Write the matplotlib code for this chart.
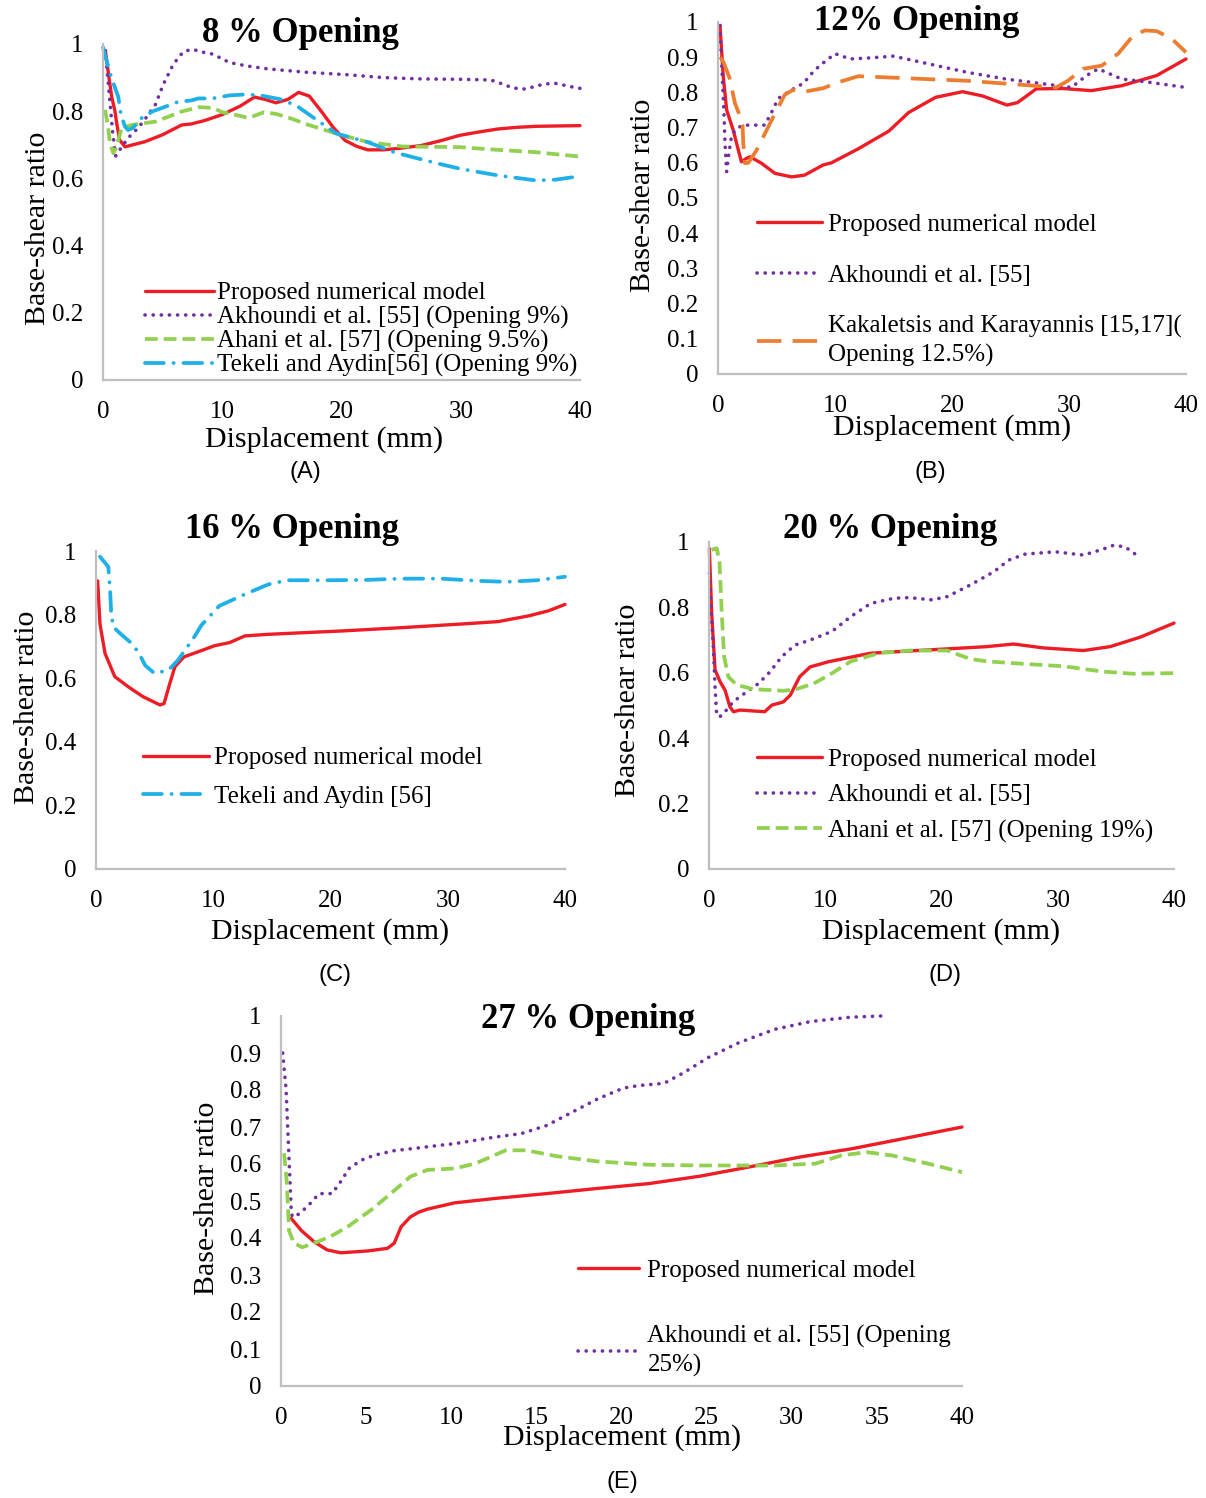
import matplotlib
matplotlib.use("Agg")
import matplotlib.pyplot as plt
from matplotlib.ticker import FuncFormatter

plt.rcParams['font.family'] = ['Liberation Serif', 'DejaVu Serif']

W, H = 1206, 1498

# ---- data ------------------------------------------------------------------
# (A) 8 % opening
a_red_x = [0.2, 0.5, 0.73, 1.0, 1.15, 1.4, 1.85, 2.5, 3.5, 5.0, 6.6, 7.4, 8.5, 10.0, 11.5, 12.7, 13.6,
           14.5, 15.5, 16.4, 17.3, 18.3, 19.3, 20.3, 21.3, 22.2, 23.5, 25.0, 26.7, 28.3, 29.9, 31.5,
           33.1, 34.7, 36.3, 38.0, 40.0]
a_red_y = [0.98, 0.9, 0.843, 0.8, 0.764, 0.714, 0.694, 0.70, 0.709, 0.73, 0.759, 0.762, 0.772, 0.79,
           0.815, 0.842, 0.835, 0.825, 0.835, 0.856, 0.845, 0.80, 0.752, 0.713, 0.695, 0.685, 0.685,
           0.69, 0.698, 0.712, 0.728, 0.738, 0.747, 0.752, 0.755, 0.756, 0.757]
a_akh_x = [0.2, 0.5, 0.8, 1.06, 1.5, 2.1, 2.8, 3.4, 4.4, 5.06, 5.9, 6.73, 7.43, 8.0, 8.55, 9.2, 10.6,
           12.0, 13.8, 17.0, 20.3, 23.5, 26.7, 29.9, 32.5, 33.1, 34.4, 35.4, 37.0, 37.9, 39.5, 40.0]
a_akh_y = [0.98, 0.86, 0.74, 0.667, 0.69, 0.72, 0.745, 0.77, 0.82, 0.88, 0.94, 0.977, 0.984, 0.98, 0.974,
           0.97, 0.945, 0.935, 0.926, 0.916, 0.909, 0.90, 0.896, 0.895, 0.893, 0.886, 0.869, 0.866,
           0.881, 0.883, 0.871, 0.868]
a_aha_x = [0.17, 0.4, 0.59, 0.87, 1.08, 1.28, 1.56, 2.4, 4.4, 6.6, 8.0, 9.2, 10.0, 11.0, 12.2, 13.5,
           14.5, 15.8, 17.0, 19.6, 22.2, 25.1, 29.9, 33.1, 36.3, 40.0]
a_aha_y = [0.804, 0.76, 0.704, 0.675, 0.69, 0.714, 0.749, 0.759, 0.769, 0.799, 0.812, 0.81, 0.797, 0.79,
           0.78, 0.797, 0.792, 0.778, 0.762, 0.733, 0.708, 0.695, 0.693, 0.685, 0.678, 0.665]
a_tek_x = [0.0, 0.59, 1.0, 1.28, 1.5, 1.85, 2.1, 2.5, 3.25, 4.2, 5.2, 6.3, 7.4, 8.0, 9.2, 10.6, 12.0,
           13.2, 15.1, 16.4, 18.0, 19.6, 22.2, 24.4, 26.0, 28.0, 29.9, 33.1, 36.3, 37.9, 39.5, 40.0]
a_tek_y = [0.99, 0.913, 0.87, 0.843, 0.79, 0.754, 0.744, 0.75, 0.78, 0.80, 0.813, 0.828, 0.832, 0.838,
           0.838, 0.847, 0.85, 0.847, 0.834, 0.812, 0.772, 0.733, 0.708, 0.678, 0.663, 0.645, 0.629,
           0.609, 0.594, 0.596, 0.604, 0.605]

# (B) 12 % opening
b_red_x = [0.17, 0.45, 0.74, 1.3, 1.74, 2.0, 2.45, 2.74, 3.7, 4.87, 6.3, 7.4, 9.0, 9.7, 12.0, 14.6,
           16.3, 18.6, 20.9, 22.6, 24.7, 25.6, 27.2, 29.5, 31.9, 34.5, 37.5, 40.0]
b_red_y = [0.99, 0.845, 0.75, 0.693, 0.636, 0.603, 0.613, 0.617, 0.599, 0.57, 0.56, 0.565, 0.594, 0.60,
           0.64, 0.69, 0.743, 0.786, 0.802, 0.79, 0.764, 0.771, 0.81, 0.811, 0.805, 0.819, 0.848, 0.895]
b_akh_x = [0.17, 0.3, 0.5, 0.6, 0.74, 0.9, 1.17, 1.6, 2.16, 3.3, 4.0, 4.6, 5.15, 6.3, 7.3, 8.15, 8.7,
           10.0, 11.3, 13.0, 15.0, 18.0, 21.3, 24.6, 27.9, 30.2, 31.5, 32.5, 34.5, 36.8, 40.0]
b_akh_y = [0.99, 0.892, 0.75, 0.655, 0.575, 0.62, 0.679, 0.698, 0.707, 0.707, 0.707, 0.745, 0.783, 0.807,
           0.826, 0.859, 0.876, 0.91, 0.895, 0.898, 0.903, 0.881, 0.857, 0.838, 0.824, 0.814, 0.848,
           0.867, 0.838, 0.829, 0.814]
b_kak_x = [0.2, 0.45, 1.0, 1.45, 1.9, 2.1, 2.16, 2.3, 2.6, 3.3, 4.16, 4.87, 5.7, 6.4, 7.4, 9.0, 10.3,
           12.0, 16.3, 21.3, 26.2, 28.9, 29.9, 31.2, 32.8, 34.2, 35.5, 36.5, 37.5, 38.8, 40.0]
b_kak_y = [0.90, 0.887, 0.84, 0.769, 0.731, 0.707, 0.655, 0.599, 0.60, 0.636, 0.693, 0.74, 0.793,
           0.807, 0.802, 0.812, 0.829, 0.846, 0.84, 0.833, 0.821, 0.814, 0.833, 0.867, 0.876, 0.91,
           0.962, 0.976, 0.974, 0.952, 0.914]

# (C) 16 % opening
c_red_x = [0.14, 0.34, 0.77, 1.6, 2.75, 4.0, 5.45, 5.8, 6.3, 6.73, 7.5, 9.15, 10.1, 11.4, 12.7, 14.7,
           21.2, 26.1, 31.0, 34.3, 36.9, 38.6, 40.0]
c_red_y = [0.906, 0.77, 0.678, 0.605, 0.573, 0.542, 0.516, 0.52, 0.584, 0.636, 0.667, 0.689, 0.702,
           0.712, 0.733, 0.738, 0.749, 0.759, 0.77, 0.778, 0.796, 0.812, 0.832]
c_tek_x = [0.34, 1.05, 1.2, 1.3, 1.5, 2.2, 2.9, 3.6, 4.2, 5.0, 6.2, 7.0, 7.6, 8.3, 9.0, 10.5, 12.7,
           14.7, 16.3, 19.6, 22.9, 26.1, 29.4, 32.7, 35.0, 37.6, 40.0]
c_tek_y = [0.982, 0.95, 0.88, 0.80, 0.76, 0.736, 0.714, 0.683, 0.64, 0.615, 0.626, 0.657, 0.689, 0.725,
           0.767, 0.827, 0.864, 0.895, 0.908, 0.908, 0.909, 0.913, 0.913, 0.906, 0.903, 0.908, 0.919]

# (D) 20 % opening
d_red_x = [0.03, 0.23, 0.52, 0.95, 1.38, 1.8, 2.1, 2.67, 4.8, 5.4, 6.4, 7.0, 7.8, 8.7, 10.3, 13.9,
           18.9, 23.9, 26.2, 28.8, 32.2, 34.5, 37.1, 40.0]
d_red_y = [0.98, 0.782, 0.609, 0.573, 0.547, 0.496, 0.481, 0.486, 0.481, 0.501, 0.511, 0.532, 0.588,
           0.618, 0.634, 0.66, 0.67, 0.68, 0.688, 0.676, 0.668, 0.68, 0.709, 0.752]
d_akh_x = [0.03, 0.2, 0.37, 0.52, 0.66, 0.95, 1.38, 2.1, 3.25, 4.25, 5.25, 6.25, 7.4, 8.7, 10.6, 12.2,
           13.9, 15.9, 17.2, 19.2, 20.5, 22.5, 24.5, 25.8, 27.2, 29.8, 32.2, 33.8, 34.8, 35.8, 37.1]
d_akh_y = [0.904, 0.78, 0.68, 0.557, 0.47, 0.466, 0.481, 0.512, 0.542, 0.567, 0.603, 0.649, 0.685, 0.70,
           0.727, 0.772, 0.812, 0.828, 0.83, 0.823, 0.833, 0.869, 0.909, 0.945, 0.963, 0.97, 0.96,
           0.977, 0.99, 0.985, 0.952]
d_aha_x = [0.23, 0.66, 0.9, 1.1, 1.3, 1.66, 2.38, 3.8, 6.4, 7.5, 9.0, 10.6, 12.2, 14.6, 17.2, 20.5,
           22.5, 23.9, 27.2, 30.5, 33.8, 36.5, 40.0]
d_aha_y = [0.976, 0.981, 0.94, 0.782, 0.649, 0.588, 0.563, 0.55, 0.545, 0.55, 0.567, 0.599, 0.635, 0.66,
           0.668, 0.668, 0.642, 0.635, 0.627, 0.62, 0.604, 0.597, 0.599]

# (E) 27 % opening
e_red_x = [0.6, 1.2, 1.94, 2.7, 3.5, 5.1, 6.25, 6.65, 7.05, 7.6, 8.1, 8.6, 10.2, 12.6, 15.6, 18.6,
           21.6, 24.6, 27.5, 30.5, 33.5, 36.5, 40.0]
e_red_y = [0.453, 0.42, 0.39, 0.368, 0.36, 0.365, 0.372, 0.386, 0.43, 0.457, 0.47, 0.478, 0.495, 0.507,
           0.52, 0.534, 0.547, 0.567, 0.592, 0.619, 0.641, 0.668, 0.70]
e_akh_x = [0.1, 0.3, 0.4, 0.5, 0.6, 0.66, 0.96, 1.55, 2.24, 3.0, 3.5, 4.0, 4.7, 5.5, 6.65, 7.8, 9.4,
           10.2, 12.6, 14.1, 15.6, 17.1, 18.6, 20.1, 21.0, 22.5, 23.7, 25.1, 26.9, 29.0, 31.1, 33.5, 35.3]
e_akh_y = [0.90, 0.80, 0.69, 0.585, 0.476, 0.457, 0.462, 0.485, 0.52, 0.52, 0.552, 0.588, 0.61, 0.624,
           0.636, 0.642, 0.651, 0.655, 0.673, 0.682, 0.704, 0.74, 0.776, 0.805, 0.812, 0.818, 0.848,
           0.888, 0.928, 0.964, 0.985, 0.997, 1.0]
e_aha_x = [0.18, 0.33, 0.4, 0.47, 0.76, 1.25, 1.94, 2.9, 3.9, 5.3, 6.45, 7.6, 8.6, 10.2, 11.4, 13.2,
           14.4, 16.2, 18.6, 21.6, 24.6, 29.0, 31.4, 32.9, 34.4, 35.9, 38.0, 40.0]
e_aha_y = [0.629, 0.557, 0.494, 0.42, 0.386, 0.375, 0.386, 0.404, 0.43, 0.476, 0.52, 0.566, 0.584,
           0.588, 0.601, 0.637, 0.637, 0.621, 0.607, 0.598, 0.596, 0.596, 0.601, 0.623, 0.632, 0.623,
           0.601, 0.578]

# ---- styles ---------------------------------------------------------------
RED = dict(color='#ee1c25', lw=2.4, solid_capstyle='round')
PURPLE = dict(color='#7030a0', lw=2.6, linestyle=(0, (0.05, 2.2)), dash_capstyle='round')
GREEN = dict(color='#92d050', lw=2.7, linestyle=(0, (3.4, 1.6)))
BLUE = dict(color='#1eb0e6', lw=2.7, linestyle=(0, (5.0, 2.6, 0.05, 2.6)), dash_capstyle='round')
ORANGE = dict(color='#ed7d31', lw=2.7, linestyle=(0, (6.5, 3.0)))

fig = plt.figure(figsize=(W / 100, H / 100), dpi=100)


def panel(left, right, top, bottom, ystep, xstep):
    ax = fig.add_axes([left / W, 1 - bottom / H, (right - left) / W, (bottom - top) / H])
    ax.set_xlim(0, 40)
    ax.set_ylim(0, 1)
    ax.set_xticks([i * xstep for i in range(int(40 / xstep) + 1)])
    ax.set_yticks([round(i * ystep, 2) for i in range(int(round(1 / ystep)) + 1)])
    ax.yaxis.set_major_formatter(FuncFormatter(lambda v, p: '%g' % v))
    ax.tick_params(length=0, labelsize=18, pad=14)
    ax.tick_params(axis='x', pad=15)
    for s in ['top', 'right']:
        ax.spines[s].set_visible(False)
    for s in ['left', 'bottom']:
        ax.spines[s].set_color('#bfbfbf')
        ax.spines[s].set_linewidth(1.6)
    return ax


def ftext(x, y, s, **kw):
    fig.text(x / W, 1 - y / H, s, ha='center', va='center', **kw)


def legend(ax, x, y, spacing, hlen=2.75, pad=0.2):
    leg = ax.legend(loc='upper left', bbox_to_anchor=(x, y), frameon=False, fontsize=18,
                    borderpad=0, borderaxespad=0, handlelength=hlen, handletextpad=pad,
                    labelspacing=spacing)
    for t in leg.get_texts():
        t.set_linespacing(1.33)


TITLE = dict(fontsize=25, fontweight='bold')
LAB = dict(fontsize=21.5)
TAG = dict(fontsize=17, family=['Liberation Sans', 'DejaVu Sans'])

# (A)
ax = panel(103, 580, 44, 380, 0.2, 10)
ax.plot(a_red_x, a_red_y, label='Proposed numerical model', clip_on=False, **RED)
ax.plot(a_akh_x, a_akh_y, label='Akhoundi et al. [55] (Opening 9%)', clip_on=False, **PURPLE)
ax.plot(a_aha_x, a_aha_y, label='Ahani et al. [57] (Opening 9.5%)', clip_on=False, **GREEN)
ax.plot(a_tek_x, a_tek_y, label='Tekeli and Aydin[56] (Opening 9%)', clip_on=False, **BLUE)
legend(ax, 0.088, 0.292, 0.05, hlen=2.75, pad=0.15)
ftext(300, 33, '8 % Opening', **TITLE)
ftext(38, 228, 'Base-shear ratio', rotation=90, **LAB)
ftext(324, 440, 'Displacement (mm)', **LAB)
ftext(305, 472, '(A)', **TAG)

# (B)
ax = panel(718, 1186, 22, 374, 0.1, 10)
ax.plot(b_red_x, b_red_y, label='Proposed numerical model', clip_on=False, **RED)
ax.plot(b_akh_x, b_akh_y, label='Akhoundi et al. [55]', clip_on=False, **PURPLE)
ax.plot(b_kak_x, b_kak_y, label='Kakaletsis and Karayannis [15,17](\nOpening 12.5%)',
        clip_on=False, **ORANGE)
legend(ax, 0.083, 0.456, 1.13, hlen=2.6, pad=0.25)
ftext(917, 21, '12% Opening', **TITLE)
ftext(643, 195, 'Base-shear ratio', rotation=90, **LAB)
ftext(952, 428, 'Displacement (mm)', **LAB)
ftext(930, 472, '(B)', **TAG)

# (C)
ax = panel(96, 565, 551, 869, 0.2, 10)
ax.plot(c_red_x, c_red_y, label='Proposed numerical model', clip_on=False, **RED)
ax.plot(c_tek_x, c_tek_y, label='Tekeli and Aydin [56]', clip_on=False, **BLUE)
legend(ax, 0.1, 0.384, 0.65, hlen=2.65)
ftext(292, 530, '16 % Opening', **TITLE)
ftext(27, 707, 'Base-shear ratio', rotation=90, **LAB)
ftext(330, 932, 'Displacement (mm)', **LAB)
ftext(335, 975, '(C)', **TAG)

# (D)
ax = panel(709, 1174, 542, 869, 0.2, 10)
ax.plot(d_red_x, d_red_y, label='Proposed numerical model', clip_on=False, **RED)
ax.plot(d_akh_x, d_akh_y, label='Akhoundi et al. [55]', clip_on=False, **PURPLE)
ax.plot(d_aha_x, d_aha_y, label='Ahani et al. [57] (Opening 19%)', clip_on=False, **GREEN)
legend(ax, 0.103, 0.37, 0.53, hlen=2.6, pad=0.25)
ftext(890, 530, '20 % Opening', **TITLE)
ftext(628, 700, 'Base-shear ratio', rotation=90, **LAB)
ftext(941, 932, 'Displacement (mm)', **LAB)
ftext(945, 975, '(D)', **TAG)

# (E)
ax = panel(281, 962, 1016, 1386, 0.1, 5)
ax.plot(e_red_x, e_red_y, label='Proposed numerical model', clip_on=False, **RED)
ax.plot(e_akh_x, e_akh_y, label='Akhoundi et al. [55] (Opening\n25%)', clip_on=False, **PURPLE)
ax.plot(e_aha_x, e_aha_y, clip_on=False, **GREEN)
legend(ax, 0.436, 0.343, 1.75, hlen=2.45, pad=0.33)
ftext(588, 1020, '27 % Opening', **TITLE)
ftext(207, 1198, 'Base-shear ratio', rotation=90, **LAB)
ftext(622, 1438, 'Displacement (mm)', **LAB)
ftext(622, 1482, '(E)', **TAG)

fig.savefig('out.png', dpi=100)
